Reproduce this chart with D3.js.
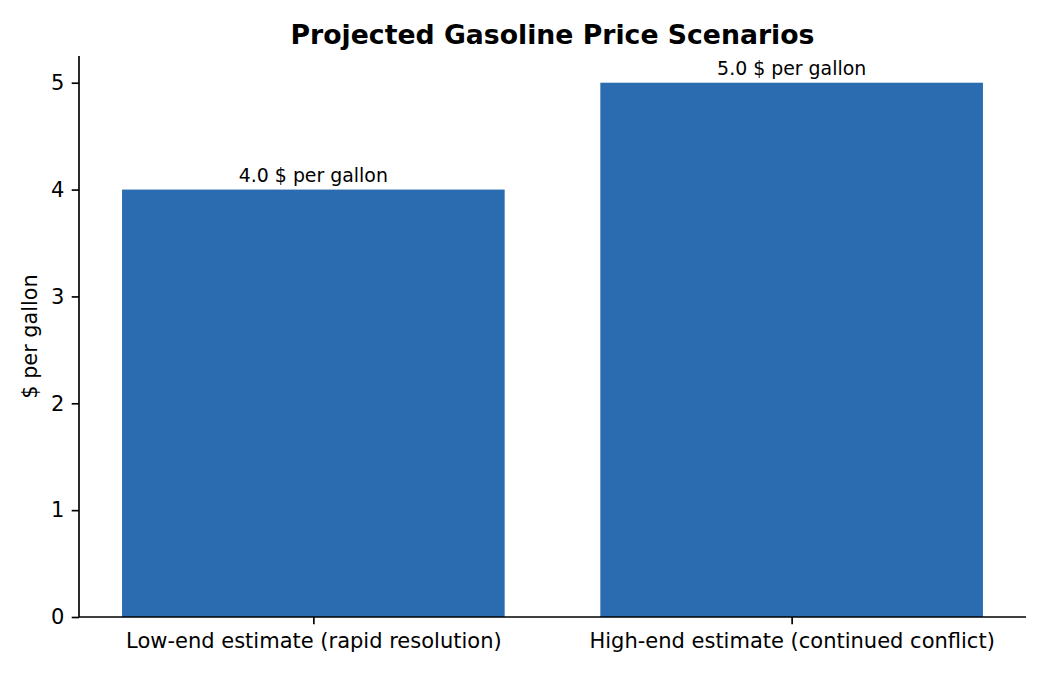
<!DOCTYPE html>
<html>
<head>
<meta charset="utf-8">
<script src="https://cdn.jsdelivr.net/npm/d3@7"></script>
<style>
  body { margin: 0; background: #fff; }
  text { font-family: "DejaVu Sans", sans-serif; fill: #000; }
</style>
</head>
<body>
<div id="chart-area"></div>
<script>
// data
var scenarios = ["Low-end estimate (rapid resolution)", "High-end estimate (continued conflict)"];
var prices = [4.0, 5.0];
var yTicks = [0, 1, 2, 3, 4, 5];

var margin = { left: 79, right: 24, top: 56, bottom: 58 };
var width = 1050 - margin.left - margin.right;
var height = 675 - margin.top - margin.bottom;

var svg = d3.select("#chart-area").append("svg")
  .attr("width", 1050)
  .attr("height", 675);

var g = svg.append("g")
  .attr("transform", "translate(" + margin.left + "," + margin.top + ")");

// X Scale (bar centers at 0 and 1, bar width 0.8)
var xIdx = d3.scaleLinear()
  .domain([-0.49, 1.49])
  .range([0, width]);

// Y Scale
var y = d3.scaleLinear()
  .domain([0, 5.25])
  .range([height, 0]);

// bars
g.selectAll("rect.bar")
  .data(prices)
  .enter()
  .append("rect")
  .attr("class", "bar")
  .attr("x", function(d, i) { return xIdx(i - 0.4); })
  .attr("width", function(d, i) { return xIdx(i + 0.4) - xIdx(i - 0.4); })
  .attr("y", function(d) { return y(d); })
  .attr("height", function(d) { return height - y(d); })
  .attr("fill", "#2b6cb0");

// value labels
g.selectAll("text.value")
  .data(prices)
  .enter()
  .append("text")
  .attr("class", "value")
  .attr("x", function(d, i) { return xIdx(i); })
  .attr("y", function(d) { return y(d) - 8; })
  .attr("text-anchor", "middle")
  .attr("font-size", "18.9px")
  .text(function(d) { return d.toFixed(1) + " $ per gallon"; });

// Y Axis
var yAxisCall = d3.axisLeft(y)
  .tickValues(yTicks)
  .tickSize(7.3)
  .tickPadding(7.3)
  .tickFormat(d3.format("d"));
var yAxis = g.append("g")
  .attr("class", "y axis")
  .call(yAxisCall);
yAxis.select(".domain").attr("d", "M0," + height + "V0");

// X Axis
var xAxisCall = d3.axisBottom(xIdx)
  .tickValues([0, 1])
  .tickSize(7.3)
  .tickPadding(7.3)
  .tickFormat(function(d) { return scenarios[d]; });
var xAxis = g.append("g")
  .attr("class", "x axis")
  .attr("transform", "translate(0," + height + ")")
  .call(xAxisCall);
xAxis.select(".domain").attr("d", "M0,0H" + width);

g.selectAll(".axis .domain, .axis line")
  .attr("stroke", "#000")
  .attr("stroke-width", 1.67);
g.selectAll(".axis text")
  .attr("font-family", "DejaVu Sans, sans-serif")
  .attr("font-size", "21px")
  .attr("fill", "#000");
g.selectAll(".x.axis text").attr("dy", "0.76em");

// Y Label
g.append("text")
  .attr("x", -(height / 2))
  .attr("y", -42)
  .attr("font-size", "20.8px")
  .attr("text-anchor", "middle")
  .attr("transform", "rotate(-90)")
  .text("$ per gallon");

// Title
svg.append("text")
  .attr("x", margin.left + width / 2)
  .attr("y", 43.5)
  .attr("font-size", "26.7px")
  .attr("font-weight", "bold")
  .attr("text-anchor", "middle")
  .text("Projected Gasoline Price Scenarios");
</script>
</body>
</html>
